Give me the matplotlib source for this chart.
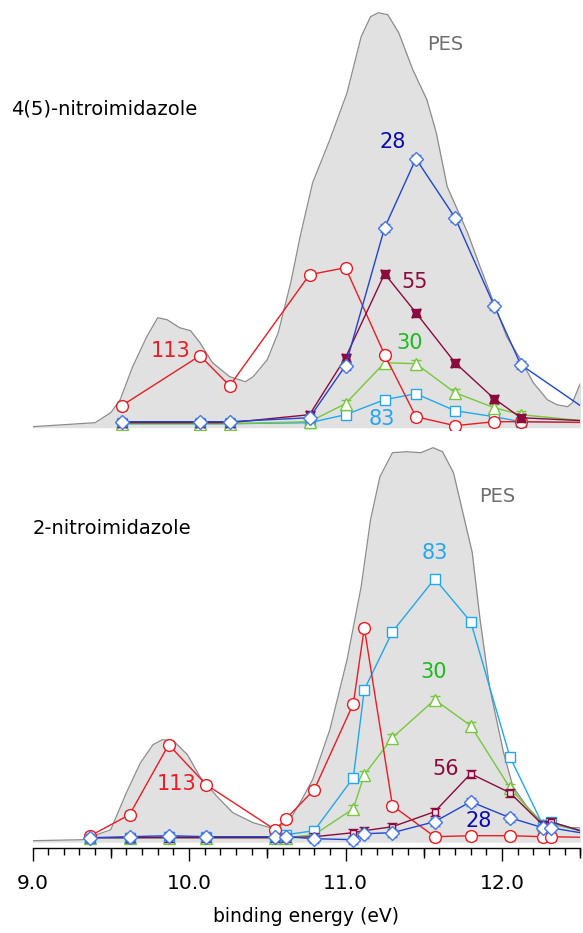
import matplotlib
matplotlib.use("Agg")
import matplotlib.pyplot as plt
from matplotlib.ticker import MultipleLocator, FixedLocator, FormatStrFormatter, NullFormatter

# ---- top panel: 4(5)-nitroimidazole ----
top_pes_ev = [9.00, 9.40, 9.50, 9.56, 9.64, 9.73, 9.80, 9.86, 9.94, 10.01, 10.07, 10.15,
              10.26, 10.36, 10.41, 10.50, 10.57, 10.65, 10.71, 10.79, 10.90, 11.01, 11.10,
              11.16, 11.21, 11.27, 11.34, 11.43, 11.52, 11.58, 11.65, 11.78, 11.86, 11.94,
              12.03, 12.12, 12.20, 12.29, 12.35, 12.42, 12.45, 12.51]
top_pes = [0, 4, 14, 27, 60, 90, 109, 107, 99, 96, 84, 64,
           50, 45, 50, 67, 94, 144, 190, 244, 287, 334, 390,
           410, 414, 412, 394, 357, 327, 294, 240, 194, 160, 127,
           90, 67, 44, 27, 22, 20, 24, 47]

top_ev = [9.57, 10.07, 10.26, 10.77, 11.00, 11.25, 11.45, 11.70, 11.95, 12.12, 12.65]
top_m113 = [21, 71, 41, 152, 159, 72, 10, 1, 5, 5, 4]
top_m28 = [5, 5, 5, 9, 61, 199, 268, 209, 121, 62, 5]
top_m55 = [4, 4, 4, 12, 69, 153, 114, 64, 28, 9, 5]
top_m30 = [3, 3, 3, 5, 23, 64, 63, 34, 19, 12, 4]
top_m83 = [3, 3, 3, 4, 12, 27, 33, 16, 10, 5, 4]

# ---- bottom panel: 2-nitroimidazole ----
bot_pes_ev = [9.00, 9.32, 9.50, 9.60, 9.69, 9.77, 9.83, 9.90, 9.99, 10.07, 10.18, 10.28,
              10.41, 10.52, 10.63, 10.71, 10.79, 10.90, 11.01, 11.10, 11.16, 11.22, 11.30,
              11.39, 11.48, 11.56, 11.62, 11.69, 11.75, 11.81, 11.86, 11.92, 12.01, 12.07,
              12.16, 12.24, 12.33, 12.42, 12.50]
bot_pes = [0, 1, 11, 48, 78, 96, 101, 100, 86, 64, 44, 28,
           18, 13, 17, 38, 61, 111, 181, 254, 321, 364, 388,
           389, 388, 393, 389, 368, 328, 288, 221, 154, 88, 54,
           34, 21, 16, 13, 13]

bot_ev = [9.37, 9.62, 9.87, 10.11, 10.55, 10.62, 10.80, 11.05, 11.12, 11.30, 11.57,
          11.80, 12.05, 12.26, 12.31, 12.65]
bot_m113 = [5, 26, 96, 56, 11, 22, 51, 137, 213, 35, 4, 5, 5, 4, 4, 3]
bot_m28 = [3, 4, 5, 4, 4, 4, 2, 1, 7, 8, 19, 39, 23, 13, 13, 4]
bot_m56 = [3, 3, 3, 3, 3, 3, 4, 8, 10, 14, 29, 67, 48, 16, 19, 3]
bot_m83 = [3, 3, 4, 4, 4, 6, 10, 63, 151, 209, 262, 219, 84, 16, 19, 3]
bot_m30 = [3, 3, 3, 3, 3, 3, 6, 32, 66, 103, 141, 115, 53, 16, 18, 3]

major_ticks = [9.0, 10.0, 11.0, 12.0]
half_ticks = [9.5, 10.5, 11.5, 12.5]

RED = "#ec1c24"
BLUE_LINE = "#1f45d2"
BLUE_EDGE = "#4677e6"
BLUE_TXT = "#0b0bb0"
LBLUE = "#22a7ee"
GREEN = "#76c83a"
GREEN_TXT = "#1dbb1d"
MAROON = "#8a0b3e"
GRAY_FILL = "#e1e1e1"
GRAY_EDGE = "#8c8c8c"
PES_TXT = "#6e6e6e"

plt.rcParams["font.family"] = "DejaVu Sans"

fig = plt.figure(figsize=(5.83, 9.33), dpi=100)
left, width = 32.5 / 583, 547.75 / 583
ax_top = fig.add_axes([left, 1 - 430 / 933, width, 430 / 933])
ax_bot = fig.add_axes([left, 1 - 848 / 933, width, (848 - 437) / 933])


def series(ax, x, y, color, marker, ms, mfc, mec, z=3, err=4):
    ax.errorbar(x, y, yerr=err, color=color, lw=1.0, marker=marker, ms=ms,
                mfc=mfc, mec=mec, mew=1.0, ecolor=mec, elinewidth=0.8,
                capsize=3.5, capthick=0.8, zorder=z)


def label(ax, x, y, s, color, size=15, ha="center"):
    ax.text(x, y, s, color=color, fontsize=size, ha=ha, va="center")


# top panel
ax_top.fill_between(top_pes_ev, top_pes, -1, color=GRAY_FILL, lw=0, zorder=1)
ax_top.plot(top_pes_ev, top_pes, color=GRAY_EDGE, lw=0.9, zorder=2)
series(ax_top, top_ev, top_m83, LBLUE, "s", 7.5, "white", LBLUE, z=3)
series(ax_top, top_ev, top_m30, GREEN, "^", 8.5, "white", GREEN, z=4)
series(ax_top, top_ev, top_m113, RED, "o", 8.5, "white", RED, z=5)
series(ax_top, top_ev, top_m55, MAROON, (4, 1, 45), 9, MAROON, MAROON, z=6)
series(ax_top, top_ev, top_m28, BLUE_LINE, "D", 7.5, "white", BLUE_EDGE, z=7)

label(ax_top, 9.88, 76, "113", RED)
label(ax_top, 11.30, 285, "28", BLUE_TXT)
label(ax_top, 11.44, 145, "55", MAROON)
label(ax_top, 11.41, 84, "30", GREEN_TXT)
label(ax_top, 11.23, 8, "83", LBLUE)
label(ax_top, 11.64, 382, "PES", PES_TXT, size=14)
label(ax_top, 8.86, 318, "4(5)-nitroimidazole", "black", size=14, ha="left")

ax_top.set_xlim(9.0, 12.5)
ax_top.set_ylim(-3.3, 426.7)
ax_top.axis("off")

# bottom panel
ax_bot.fill_between(bot_pes_ev, bot_pes, -1.5, color=GRAY_FILL, lw=0, zorder=1)
ax_bot.plot(bot_pes_ev, bot_pes, color=GRAY_EDGE, lw=0.9, zorder=2)
series(ax_bot, bot_ev, bot_m30, GREEN, "^", 8.5, "white", GREEN, z=3)
series(ax_bot, bot_ev, bot_m83, LBLUE, "s", 7.5, "white", LBLUE, z=4)
series(ax_bot, bot_ev, bot_m56, MAROON, "s", 5, "#f3dfe6", MAROON, z=5)
series(ax_bot, bot_ev, bot_m113, RED, "o", 8.5, "white", RED, z=6)
series(ax_bot, bot_ev, bot_m28, BLUE_LINE, "D", 7.5, "white", BLUE_EDGE, z=7)

label(ax_bot, 9.92, 57, "113", RED)
label(ax_bot, 11.57, 288, "83", LBLUE)
label(ax_bot, 11.56, 169, "30", GREEN_TXT)
label(ax_bot, 11.64, 72, "56", MAROON)
label(ax_bot, 11.85, 20, "28", BLUE_TXT)
label(ax_bot, 11.97, 344, "PES", PES_TXT, size=14)
label(ax_bot, 9.0, 312, "2-nitroimidazole", "black", size=14, ha="left")

ax_bot.set_xlim(9.0, 12.5)
ax_bot.set_ylim(-7.3, 403.7)
for side in ["top", "left", "right"]:
    ax_bot.spines[side].set_visible(False)
ax_bot.spines["bottom"].set_linewidth(1.0)
ax_bot.set_yticks([])
ax_bot.xaxis.set_major_locator(FixedLocator(major_ticks))
ax_bot.xaxis.set_minor_locator(MultipleLocator(0.1))
ax_bot.xaxis.set_major_formatter(FormatStrFormatter("%.1f"))
ax_bot.tick_params(axis="x", which="major", length=9.5, width=1.0, labelsize=14.5, pad=9.5)
ax_bot.tick_params(axis="x", which="minor", length=5, width=1.0)
ax_bot.set_xlabel("binding energy (eV)", fontsize=13.5, labelpad=10)

# medium ticks at the half-eV positions
sec = ax_bot.secondary_xaxis("bottom")
sec.spines["bottom"].set_visible(False)
sec.xaxis.set_major_locator(FixedLocator(half_ticks))
sec.xaxis.set_major_formatter(NullFormatter())
sec.tick_params(axis="x", which="major", length=7, width=1.0)
sec.tick_params(axis="x", which="minor", bottom=False)

fig.savefig("out.png", dpi=100)
